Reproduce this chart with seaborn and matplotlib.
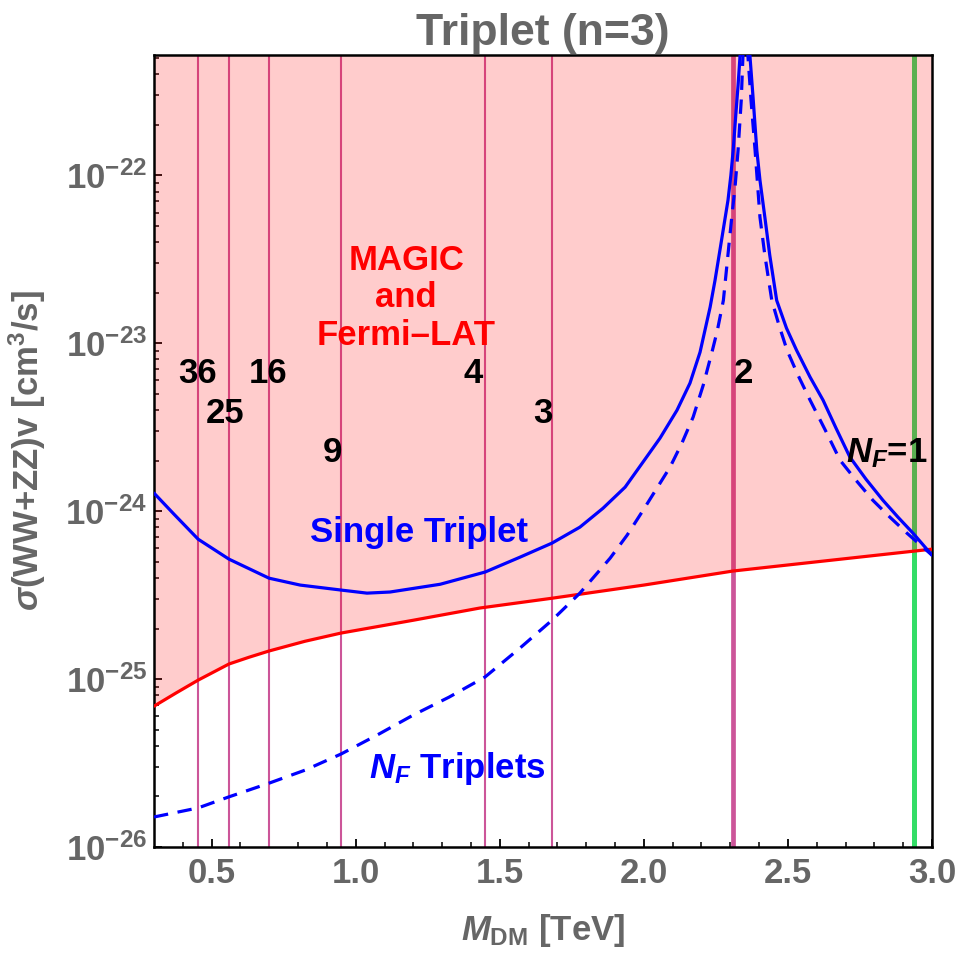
"""
Triplet (n=3) annihilation cross section against the MAGIC and Fermi-LAT bound
"""
import numpy as np
import pandas as pd
import matplotlib
matplotlib.use("Agg")
import matplotlib.pyplot as plt
import seaborn as sns

# MAGIC + Fermi-LAT upper limit (red curve)
bound_mass = [0.300, 0.376, 0.453, 0.560, 0.630, 0.699, 0.824, 0.949, 1.199, 1.431, 1.681,
              2.000, 2.309, 2.653, 3.000]
bound_sigma = [6.90e-26, 8.26e-26, 9.86e-26, 1.23e-25, 1.35e-25, 1.47e-25, 1.68e-25, 1.88e-25,
               2.24e-25, 2.65e-25, 3.03e-25, 3.63e-25, 4.40e-25, 5.11e-25, 5.94e-25]

# single triplet prediction (solid blue)
single_mass = [0.300, 0.369, 0.453, 0.560, 0.699, 0.807, 0.949, 1.039, 1.119, 1.293, 1.449,
               1.570, 1.681, 1.778, 1.858, 1.935, 1.997, 2.056, 2.115, 2.160, 2.195, 2.230,
               2.247, 2.264, 2.278, 2.292, 2.302, 2.310, 2.319, 2.327, 2.334, 2.351, 2.368,
               2.379, 2.392, 2.403, 2.420, 2.437, 2.461, 2.495, 2.530, 2.577, 2.622, 2.667,
               2.715, 2.771, 2.830, 2.882, 2.934, 3.000]
single_sigma = [1.28e-24, 9.60e-25, 6.81e-25, 5.18e-25, 3.99e-25, 3.63e-25, 3.39e-25, 3.25e-25,
                3.30e-25, 3.67e-25, 4.34e-25, 5.32e-25, 6.45e-25, 8.03e-25, 1.04e-24, 1.39e-24,
                1.96e-24, 2.72e-24, 3.99e-24, 5.78e-24, 8.84e-24, 1.64e-23, 2.37e-23, 3.58e-23,
                5.04e-23, 7.10e-23, 1.00e-22, 1.41e-22, 2.28e-22, 3.43e-22, 5.18e-22, 3.0e-21,
                5.18e-22, 2.91e-22, 1.41e-22, 9.34e-23, 5.62e-23, 3.34e-23, 1.80e-23, 1.23e-23,
                9.08e-24, 6.28e-24, 4.58e-24, 3.12e-24, 2.10e-24, 1.55e-24, 1.16e-24, 9.21e-25,
                7.40e-25, 5.47e-25]

# N_F triplets prediction (dashed blue)
multi_mass = [0.300, 0.453, 0.560, 0.699, 0.824, 0.949, 1.074, 1.199, 1.324, 1.449, 1.570,
              1.681, 1.778, 1.883, 1.942, 1.997, 2.091, 2.132, 2.171, 2.206, 2.238, 2.255,
              2.276, 2.290, 2.305, 2.317, 2.327, 2.338, 2.344, 2.352, 2.361, 2.372, 2.386,
              2.403, 2.420, 2.444, 2.469, 2.497, 2.535, 2.577, 2.630, 2.681, 2.736, 2.795,
              2.854, 2.913, 3.000]
multi_sigma = [1.51e-26, 1.71e-26, 1.99e-26, 2.40e-26, 2.87e-26, 3.58e-26, 4.64e-26, 6.10e-26,
               7.81e-26, 1.03e-25, 1.53e-25, 2.24e-25, 3.25e-25, 5.25e-25, 7.20e-25, 1.01e-24,
               1.83e-24, 2.54e-24, 3.63e-24, 5.62e-24, 9.08e-24, 1.19e-23, 1.80e-23, 3.12e-23,
               5.62e-23, 8.72e-23, 1.41e-22, 2.79e-22, 5.18e-22, 3.0e-21, 5.18e-22, 2.79e-22,
               1.41e-22, 5.62e-23, 3.34e-23, 1.80e-23, 1.28e-23, 9.08e-24, 6.45e-24, 4.58e-24,
               3.03e-24, 2.01e-24, 1.53e-24, 1.16e-24, 9.21e-25, 7.40e-25, 5.47e-25]

# masses where N_F copies reach the relic abundance
nf_mass = [0.452, 0.559, 0.700, 0.950, 1.449, 1.680, 2.309]
nf_label = ["36", "25", "16", "9", "4", "3", "2"]
single_relic_mass = 2.938

GRAY = "#666666"


def plot_triplet_limits() -> None:
    """
    Plot the sigma v predictions for one and N_F triplets with the excluded region shaded
    """
    sns.set_theme(style="ticks")
    plt.rcParams["font.family"] = ["Liberation Sans", "DejaVu Sans"]
    plt.rcParams["font.weight"] = "bold"
    plt.rcParams["axes.labelweight"] = "bold"
    plt.rcParams["axes.titleweight"] = "bold"
    plt.rcParams["mathtext.fontset"] = "custom"
    plt.rcParams["mathtext.rm"] = "Liberation Sans:bold"
    plt.rcParams["mathtext.it"] = "Liberation Sans:italic:bold"
    plt.rcParams["mathtext.bf"] = "Liberation Sans:bold"
    plt.rcParams["mathtext.sf"] = "Liberation Sans:italic"

    fig = plt.figure(figsize=(9.61, 9.57), dpi=100)
    ax = fig.add_axes([0.1603, 0.1149, 0.8095, 0.8276])
    ax.set_yscale("log")
    y_top = 5.2e-22

    # vertical lines sit below the shaded region, like in the original
    for m in nf_mass:
        ax.axvline(m, color="#cc5599", lw=3.4 if m > 2.3 else 1.5, zorder=1)
    ax.axvline(single_relic_mass, color="#33dd66", lw=3.6, zorder=1)

    ax.fill_between(bound_mass, bound_sigma, y_top, color="red", alpha=0.2, lw=0, zorder=2)

    curves = pd.concat([
        pd.DataFrame({"mass": bound_mass, "sigma": bound_sigma, "curve": "bound"}),
        pd.DataFrame({"mass": single_mass, "sigma": single_sigma, "curve": "single"}),
        pd.DataFrame({"mass": multi_mass, "sigma": multi_sigma, "curve": "multi"}),
    ])
    sns.lineplot(data=curves[curves.curve == "bound"], x="mass", y="sigma", color="red",
                 lw=2.3, ax=ax, zorder=3)
    sns.lineplot(data=curves[curves.curve == "single"], x="mass", y="sigma", color="blue",
                 lw=2.3, ax=ax, zorder=3)
    sns.lineplot(data=curves[curves.curve == "multi"], x="mass", y="sigma", color="blue",
                 lw=2.3, ls=(0, (4.5, 3)), ax=ax, zorder=3)

    ax.set_xlim(0.3, 3.0)
    ax.set_ylim(1e-26, y_top)
    ax.set_yticks([1e-26, 1e-25, 1e-24, 1e-23, 1e-22])
    ax.set_xticks([0.5, 1.0, 1.5, 2.0, 2.5, 3.0])
    ax.set_xticks(np.arange(0.4, 3.0, 0.1), minor=True)
    ax.tick_params(which="both", direction="in", top=False, right=False, colors="black",
                   labelcolor=GRAY, labelsize=25)
    ax.tick_params(which="major", length=6, width=1.3)
    ax.tick_params(which="minor", length=3.5, width=1.1)
    ax.tick_params(axis="x", pad=7)
    ax.tick_params(axis="y", pad=5)
    for spine in ax.spines.values():
        spine.set_color("black")
        spine.set_linewidth(1.8)

    ax.set_xlabel(r"$M_{\mathrm{DM}}$ [TeV]", fontsize=25, color=GRAY)
    ax.set_ylabel(r"$\mathsf{\sigma}$(WW+ZZ)v [cm$^3$/s]", fontsize=25, color=GRAY)
    ax.xaxis.set_label_coords(0.5, -0.082)
    ax.yaxis.set_label_coords(-0.136, 0.5)
    ax.set_title("Triplet (n=3)", fontsize=32, color=GRAY, pad=7)

    # N_F labels next to the vertical lines
    label_x = [0.452, 0.545, 0.694, 0.919, 1.407, 1.650, 2.344]
    label_y = [5.78e-24, 3.34e-24, 5.78e-24, 1.96e-24, 5.78e-24, 3.34e-24, 5.78e-24]
    for x, y, txt in zip(label_x, label_y, nf_label):
        ax.text(x, y, txt, fontsize=25, color="black", ha="center", va="baseline", zorder=4)
    ax.text(2.986, 1.96e-24, r"$N_F$=1", fontsize=25, color="black", ha="right",
            va="baseline", zorder=4)

    for txt, y in zip(["MAGIC", "and", "Fermi\u2013LAT"], [2.72e-23, 1.64e-23, 9.7e-24]):
        ax.text(1.175, y, txt, fontsize=25, color="red", ha="center", va="baseline", zorder=4)
    ax.text(1.218, 6.53e-25, "Single Triplet", fontsize=25, color="blue", ha="center",
            va="baseline", zorder=4)
    ax.text(1.353, 2.58e-26, r"$N_F$ Triplets", fontsize=25, color="blue", ha="center",
            va="baseline", zorder=4)

    fig.savefig("out.png", dpi=100)


plot_triplet_limits()
